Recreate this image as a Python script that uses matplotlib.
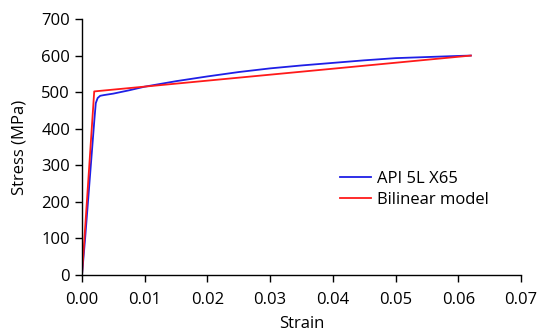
import matplotlib
matplotlib.use("Agg")
import matplotlib.pyplot as plt

plt.rcParams["font.family"] = ["Open Sans", "DejaVu Sans"]

# measured stress-strain curve (API 5L X65)
strain_api = [0.0, 0.0005, 0.001, 0.0015, 0.002, 0.0022, 0.0025, 0.0029, 0.0035,
              0.005, 0.0075, 0.01, 0.015, 0.02, 0.025, 0.03, 0.035, 0.04,
              0.045, 0.05, 0.055, 0.06, 0.062]
stress_api = [0, 100, 210, 320, 430, 470, 484, 490, 492,
              496, 505, 515, 530, 543, 555, 565, 573, 580,
              587, 593, 596, 599, 600]

# bilinear model
strain_bil = [0.0, 0.00195, 0.062]
stress_bil = [0, 502, 600]

xticks = [0.00, 0.01, 0.02, 0.03, 0.04, 0.05, 0.06, 0.07]
yticks = [0, 100, 200, 300, 400, 500, 600, 700]

fig = plt.figure(figsize=(5.38, 3.34), dpi=100)
ax = fig.add_axes([0.1524, 0.1766, 0.816, 0.7665])

ax.plot(strain_api, stress_api, color="#1f1fe6", lw=1.3, label="API 5L X65")
ax.plot(strain_bil, stress_bil, color="#ff1a1a", lw=1.3, label="Bilinear model")

ax.set_xlim(0, 0.07)
ax.set_ylim(0, 700)
ax.set_xticks(xticks)
ax.set_xticklabels([f"{t:.2f}" for t in xticks])
ax.set_yticks(yticks)
ax.tick_params(labelsize=12, direction="out", length=5, width=1, colors="black")
ax.tick_params(axis="x", pad=7)
for s in ["top", "right"]:
    ax.spines[s].set_visible(False)
for s in ["left", "bottom"]:
    ax.spines[s].set_linewidth(1)

ax.set_xlabel("Strain", fontsize=12, labelpad=6)
ax.set_ylabel("Stress (MPa)", fontsize=12, labelpad=10)

ax.legend(loc="upper left", bbox_to_anchor=(0.553, 0.465), frameon=False,
          fontsize=12, handlelength=1.9, handletextpad=0.35, labelspacing=0.3)

fig.savefig("out.png", dpi=100)
